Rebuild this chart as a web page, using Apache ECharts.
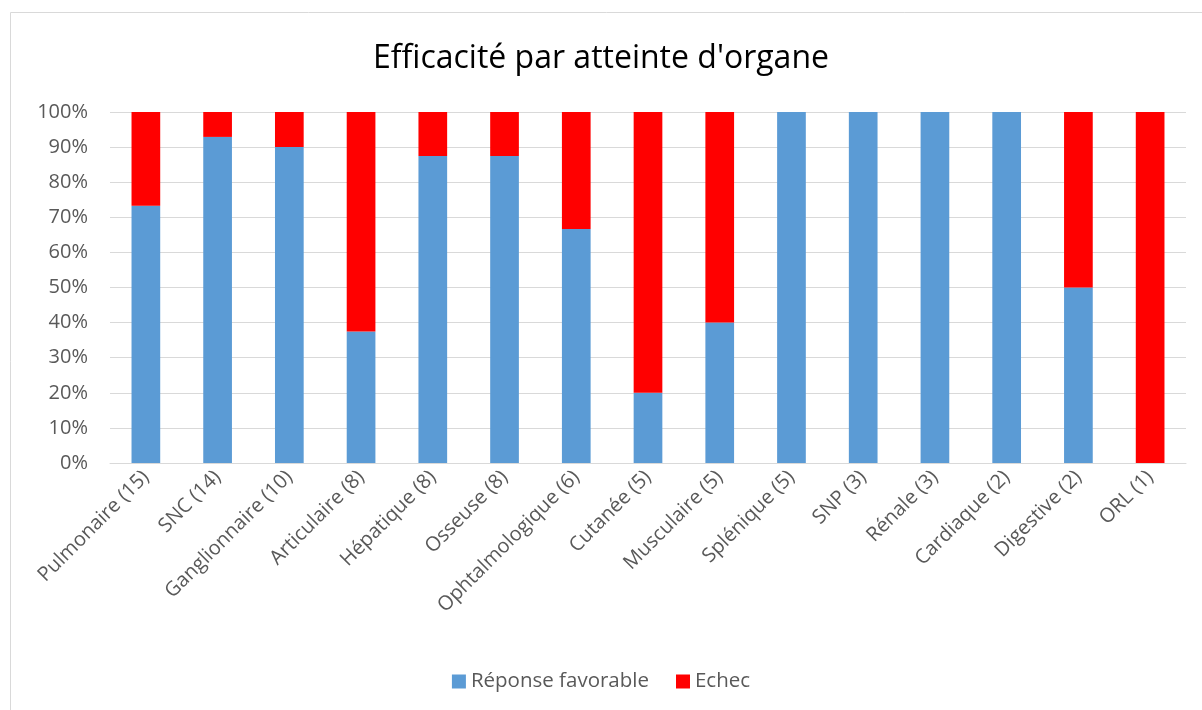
<!DOCTYPE html>
<html>
<head>
<meta charset="utf-8">
<script src="https://cdn.jsdelivr.net/npm/echarts@6/dist/echarts.min.js"></script>
<style>
  html, body { margin: 0; padding: 0; background: #fff; }
  #chart { width: 1202px; height: 710px; }
</style>
</head>
<body>
<div id="chart"></div>
<script>
// organ categories with patient counts
var categories = ['Pulmonaire (15)', 'SNC (14)', 'Ganglionnaire (10)', 'Articulaire (8)', 'Hépatique (8)',
  'Osseuse (8)', 'Ophtalmologique (6)', 'Cutanée (5)', 'Musculaire (5)', 'Splénique (5)',
  'SNP (3)', 'Rénale (3)', 'Cardiaque (2)', 'Digestive (2)', 'ORL (1)']
// percent of each organ group
var favorable = [73.3, 92.9, 90, 37.5, 87.5, 87.5, 66.7, 20, 40, 100, 100, 100, 100, 50, 0]
var echec = [26.7, 7.1, 10, 62.5, 12.5, 12.5, 33.3, 80, 60, 0, 0, 0, 0, 50, 100]

var font = '"Open Sans", sans-serif'
var textColor = '#595959'

var myChart = echarts.init(document.getElementById('chart'))
myChart.setOption({
  animation: false,
  textStyle: { fontFamily: font },
  title: {
    text: "Efficacité par atteinte d'organe",
    left: 'center',
    top: 38,
    textStyle: { fontSize: 32, fontWeight: 'normal', color: '#000', fontFamily: font }
  },
  graphic: [{
    type: 'rect',
    shape: { x: 10.5, y: 12.5, width: 1200, height: 710 },
    style: { fill: 'none', stroke: '#d9d9d9', lineWidth: 1 },
    silent: true
  }],
  legend: {
    bottom: 13,
    left: 'center',
    itemWidth: 14,
    itemHeight: 14,
    itemGap: 27,
    icon: 'rect',
    textStyle: { fontSize: 20.5, color: textColor, fontFamily: font },
    data: ['Réponse favorable', 'Echec']
  },
  grid: { left: 110, right: 16, top: 112, bottom: 247, containLabel: false },
  xAxis: {
    type: 'category',
    data: categories,
    axisTick: { show: false },
    axisLine: { show: true, lineStyle: { color: '#d9d9d9', width: 1 } },
    axisLabel: { rotate: 45, fontSize: 20, color: textColor, interval: 0, margin: 11, fontFamily: font }
  },
  yAxis: {
    type: 'value',
    min: 0,
    max: 100,
    interval: 10,
    axisLine: { show: false },
    axisTick: { show: false },
    splitLine: { lineStyle: { color: '#d9d9d9', width: 1 } },
    axisLabel: { formatter: '{value}%', fontSize: 20, color: textColor, margin: 22, fontFamily: font }
  },
  series: [{
    name: 'Réponse favorable',
    type: 'bar',
    stack: 'total',
    barWidth: '40%',
    itemStyle: { color: '#5b9bd5' },
    data: favorable
  }, {
    name: 'Echec',
    type: 'bar',
    stack: 'total',
    barWidth: '40%',
    itemStyle: { color: '#ff0000' },
    data: echec
  }]
})
</script>
</body>
</html>
